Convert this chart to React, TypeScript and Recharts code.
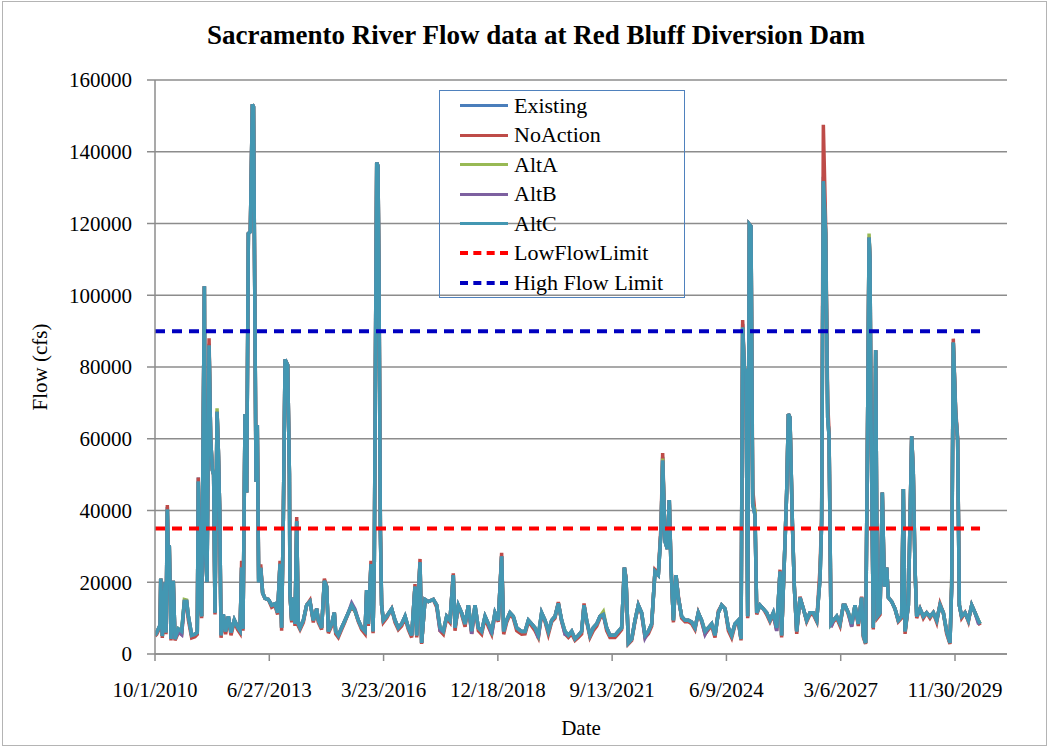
import { CartesianGrid, Line, LineChart, XAxis, YAxis } from 'recharts';

// days since 10/1/2010
const days = [
  0, 15, 44, 50, 64, 88, 96, 108, 117, 125, 140, 160, 175, 204, 233, 257, 277, 292, 321, 350,
  370, 379, 394, 408, 432, 440, 455, 473, 487, 502, 513, 525, 543, 554, 566, 578, 598, 618, 642, 665,
  694, 723, 744, 758, 770, 788, 802, 817, 834, 852, 862, 884, 895, 907, 925, 942, 963, 992, 1021, 1050,
  1073, 1094, 1108, 1123, 1138, 1161, 1176,
  1181, 1196, 1210, 1225, 1240, 1254, 1269, 1298, 1327, 1356, 1385, 1415, 1429, 1458, 1482, 1502, 1517, 1546, 1569, 1581,
  1604, 1633, 1663, 1692, 1721, 1750, 1779, 1808, 1838, 1852, 1867, 1890, 1908, 1919, 1931, 1940, 1951, 1960, 1972, 1983,
  1998, 2027, 2071, 2100, 2129, 2158, 2188, 2217, 2246, 2275, 2290, 2304, 2319, 2333,
  2363, 2392, 2435, 2465, 2494, 2523, 2552, 2581, 2610, 2625, 2654, 2683, 2713, 2742, 2771, 2800, 2829, 2858, 2888, 2917,
  2946, 2975, 3004, 3033, 3051, 3077, 3106, 3135, 3165, 3208, 3238, 3267, 3296, 3325, 3354, 3383, 3413, 3442, 3471, 3500,
  3529, 3558,
  3588, 3617, 3646, 3675, 3704, 3733, 3754, 3777, 3806, 3835, 3865, 3894, 3923, 3952, 3981, 4025, 4054, 4083, 4107, 4121,
  4142, 4171, 4200, 4229, 4258, 4288, 4317, 4346, 4375, 4404, 4428, 4442, 4463, 4483, 4500, 4515, 4536, 4559, 4579, 4608,
  4638, 4667, 4696, 4725, 4754, 4783,
  4813, 4842, 4871, 4900, 4929, 4958, 4988, 5017, 5046, 5075, 5104, 5128, 5142, 5157, 5171, 5186, 5200, 5215, 5230, 5250,
  5265, 5294, 5323, 5352, 5381, 5410, 5440, 5469, 5483, 5513, 5527, 5542, 5556, 5577, 5594, 5615, 5644, 5673, 5702, 5731,
  5760, 5790, 5819, 5833, 5848, 5868, 5886, 5898, 5915, 5936, 5965, 5994, 6023,
  6038, 6067, 6096, 6125, 6154, 6183, 6198, 6218, 6233, 6248, 6256, 6265, 6285, 6306, 6320, 6344, 6364, 6382, 6402, 6417,
  6446, 6475, 6504, 6533, 6548, 6563, 6592, 6621, 6635, 6650, 6665, 6694, 6723, 6752, 6781, 6810, 6840, 6869, 6898, 6927,
  6956, 6971, 6985, 7006, 7023, 7038, 7058, 7088, 7117, 7146, 7175, 7204, 7219,
];

// flows in thousand cfs
const existing = [
  5.3, 6.0, 8.0, 21.0, 5.0, 20.0, 6.0, 41.0, 25.0, 30.3, 4.2, 20.4, 4.2, 7.0, 6.3, 14.6, 14.6, 10.5, 5.2, 5.5,
  6.0, 49.2, 15.0, 10.5, 102.5, 30.0, 20.0, 86.5, 60.0, 51.3, 50.0, 11.5, 67.5, 57.0, 40.0, 5.2, 11.0, 6.3, 10.5, 6.0,
  9.5, 7.5, 6.5, 24.1, 7.0, 66.9, 45.0, 117.2, 117.7, 153.2, 152.5, 48.0, 63.8, 20.0, 24.0, 17.0, 15.5, 15.2, 13.6, 14.0,
  11.5, 25.1, 7.3, 38.2, 82.1, 80.5, 50.2,
  16.7, 9.4, 15.7, 8.4, 37.0, 8.4, 7.3, 9.4, 13.6, 14.6, 9.4, 12.6, 9.4, 7.3, 20.4, 18.8, 6.3, 8.4, 11.5, 6.3,
  5.2, 7.3, 9.4, 11.5, 13.6, 12.0, 9.4, 7.3, 6.3, 17.8, 8.4, 25.1, 6.3, 26.0, 93.1, 137.0, 136.0, 104.6, 34.5, 13.6,
  9.4, 10.5, 12.6, 9.4, 7.3, 8.4, 10.5, 7.3, 5.2, 18.8, 5.2, 15.7, 25.6, 3.1,
  15.2, 14.6, 15.2, 13.6, 7.3, 6.3, 10.5, 9.4, 22.0, 7.3, 13.6, 11.5, 8.4, 13.6, 6.3, 13.6, 7.3, 6.3, 10.5, 8.4,
  6.3, 11.5, 9.4, 27.2, 6.3, 9.4, 11.5, 10.5, 7.3, 6.3, 6.3, 9.4, 8.4, 7.3, 5.2, 11.5, 9.4, 6.3, 9.4, 10.5,
  14.1, 9.4,
  6.3, 5.2, 6.3, 4.2, 5.2, 6.3, 13.6, 9.4, 5.2, 7.3, 8.4, 10.5, 11.0, 7.3, 5.2, 5.2, 6.3, 7.3, 24.1, 20.9,
  3.1, 4.2, 9.4, 13.6, 11.5, 5.2, 6.3, 8.4, 23.0, 22.0, 34.5, 55.0, 31.4, 29.3, 42.9, 24.1, 9.4, 22.0, 15.7, 10.5,
  9.4, 9.4, 8.9, 7.3, 11.5, 9.4,
  6.3, 7.3, 8.4, 5.2, 11.5, 13.6, 12.6, 7.3, 5.2, 8.4, 9.4, 4.2, 92.0, 79.5, 79.0, 10.5, 119.8, 119.2, 41.8, 38.7,
  11.5, 13.6, 12.6, 11.5, 9.4, 11.5, 7.3, 23.0, 5.2, 31.4, 45.0, 66.9, 65.9, 36.6, 18.8, 6.3, 15.7, 12.6, 9.4, 11.5,
  11.5, 9.4, 21.0, 36.6, 133.0, 117.2, 65.9, 60.7, 8.4, 9.4, 10.5, 8.4, 13.6,
  13.6, 11.5, 8.4, 13.6, 8.4, 15.7, 5.2, 3.1, 55.4, 116.1, 110.0, 66.9, 7.3, 84.7, 10.5, 11.5, 45.0, 18.8, 24.1, 15.7,
  14.6, 12.6, 9.4, 10.5, 46.0, 6.3, 13.6, 60.7, 50.2, 24.1, 10.5, 12.6, 10.5, 11.5, 10.5, 11.5, 9.4, 13.6, 11.5, 6.3,
  3.1, 18.8, 86.8, 66.9, 59.6, 13.6, 10.5, 11.5, 9.4, 13.6, 11.5, 9.4, 8.4,
];

const noAction = [
  5.0, 5.5, 7.5, 21.0, 4.5, 20.0, 5.5, 41.5, 25.0, 30.3, 3.8, 20.4, 3.8, 6.0, 5.5, 14.0, 14.0, 9.5, 4.5, 4.8,
  5.5, 49.2, 15.0, 10.0, 102.5, 30.0, 20.0, 88.0, 60.0, 51.3, 50.0, 11.0, 67.5, 57.0, 40.0, 4.5, 10.5, 5.5, 10.0, 5.2,
  9.0, 6.8, 5.8, 26.0, 6.5, 66.9, 45.0, 117.2, 117.7, 153.2, 152.5, 48.0, 63.8, 21.0, 25.0, 17.0, 15.5, 15.2, 13.0, 13.5,
  11.0, 26.0, 6.5, 38.2, 82.1, 80.5, 50.2,
  16.7, 8.8, 15.7, 7.8, 38.2, 7.8, 6.8, 8.8, 13.6, 15.0, 8.8, 12.6, 8.8, 6.8, 21.0, 18.8, 5.8, 7.8, 11.5, 5.6,
  4.6, 6.8, 9.0, 11.5, 13.0, 12.0, 9.0, 6.8, 5.6, 17.8, 7.8, 26.0, 5.8, 27.0, 93.1, 137.0, 136.0, 104.6, 36.0, 13.6,
  8.8, 10.0, 12.6, 8.8, 6.8, 7.8, 10.0, 6.8, 4.6, 19.5, 4.6, 15.7, 26.5, 2.8,
  15.2, 14.6, 15.2, 13.0, 6.5, 5.5, 10.0, 8.8, 22.5, 6.5, 13.6, 11.0, 7.6, 13.6, 5.6, 13.0, 6.5, 5.5, 10.0, 7.6,
  5.5, 11.0, 9.0, 28.2, 5.5, 8.8, 11.0, 10.0, 6.5, 5.5, 5.6, 9.0, 7.8, 6.5, 4.6, 11.0, 9.0, 5.5, 9.0, 10.0,
  14.5, 9.0,
  5.6, 4.6, 5.6, 3.8, 4.6, 5.6, 14.1, 9.0, 4.6, 6.5, 7.8, 10.0, 11.0, 6.5, 4.6, 4.6, 5.6, 6.8, 24.1, 21.5,
  2.8, 3.8, 9.0, 13.6, 11.0, 4.6, 5.6, 7.8, 23.5, 22.5, 36.0, 56.0, 32.0, 29.3, 42.9, 25.0, 8.8, 22.0, 16.2, 10.0,
  9.0, 9.0, 8.4, 6.8, 11.5, 9.0,
  5.6, 6.8, 7.8, 4.6, 12.0, 13.6, 12.6, 6.5, 4.5, 8.0, 9.0, 3.8, 93.1, 79.5, 79.0, 10.0, 119.8, 119.2, 46.0, 39.0,
  11.0, 13.6, 12.6, 11.0, 9.0, 11.0, 6.5, 23.5, 4.6, 32.0, 45.0, 66.9, 65.9, 37.0, 19.0, 5.6, 16.0, 12.6, 9.0, 11.0,
  11.0, 9.0, 24.0, 38.0, 147.5, 120.0, 70.0, 62.0, 7.6, 9.0, 10.0, 7.8, 13.6,
  13.6, 11.0, 7.8, 13.6, 7.8, 16.0, 4.6, 2.8, 55.4, 116.1, 110.0, 66.9, 6.8, 84.7, 10.0, 11.0, 45.0, 19.0, 24.1, 15.7,
  14.6, 12.6, 9.0, 10.0, 46.0, 5.6, 13.6, 60.7, 51.0, 24.1, 10.0, 12.6, 10.0, 11.5, 10.0, 11.5, 8.8, 14.0, 11.5, 5.6,
  2.8, 19.5, 87.9, 68.0, 60.5, 13.6, 10.0, 11.5, 9.0, 13.6, 11.5, 9.0, 8.0,
];

const altA = [
  5.2, 6.0, 8.0, 21.0, 5.0, 20.0, 6.0, 40.3, 25.0, 30.3, 4.2, 20.4, 4.2, 7.0, 6.3, 15.2, 15.0, 10.5, 5.2, 5.5,
  6.0, 48.1, 15.0, 10.5, 102.5, 30.0, 20.0, 86.0, 60.0, 51.3, 50.0, 11.5, 68.5, 57.0, 40.0, 5.2, 11.0, 6.3, 10.5, 6.0,
  9.5, 7.5, 6.5, 24.1, 7.0, 66.9, 45.0, 117.2, 117.7, 153.2, 152.5, 48.0, 63.8, 20.0, 24.0, 17.0, 15.5, 15.2, 13.6, 14.0,
  11.5, 25.1, 7.3, 38.2, 82.1, 80.5, 50.2,
  16.7, 9.4, 15.7, 8.4, 37.0, 8.4, 7.3, 9.4, 13.6, 14.6, 9.4, 12.6, 9.4, 7.3, 20.4, 18.8, 6.3, 8.4, 11.5, 6.3,
  5.2, 7.3, 9.4, 11.5, 13.6, 12.0, 9.4, 7.3, 6.3, 17.8, 8.4, 25.1, 6.3, 26.0, 93.1, 137.0, 136.0, 104.6, 34.5, 13.6,
  9.4, 10.5, 12.6, 9.4, 7.3, 8.4, 10.5, 7.3, 5.2, 18.8, 5.2, 15.7, 25.6, 3.1,
  15.2, 14.6, 15.2, 13.6, 7.3, 6.3, 10.5, 9.4, 22.0, 7.3, 13.6, 11.5, 8.4, 13.6, 6.3, 13.6, 7.3, 6.3, 10.5, 8.4,
  6.3, 11.5, 9.4, 27.2, 6.3, 9.4, 11.5, 10.5, 7.3, 6.3, 6.3, 9.4, 8.4, 7.3, 5.2, 11.5, 9.4, 6.3, 9.4, 10.5,
  14.1, 9.4,
  6.3, 5.2, 6.3, 4.2, 5.2, 6.3, 13.6, 9.4, 5.2, 7.3, 8.4, 10.5, 11.8, 7.3, 5.2, 5.2, 6.3, 7.3, 24.1, 20.9,
  3.1, 4.2, 9.4, 13.6, 11.5, 5.2, 6.3, 8.4, 23.0, 22.0, 34.5, 54.5, 31.4, 29.3, 42.9, 24.1, 9.4, 22.0, 15.7, 10.5,
  9.4, 9.4, 8.9, 7.3, 11.5, 9.4,
  6.3, 7.3, 8.4, 5.2, 11.5, 13.6, 12.6, 7.3, 5.2, 8.4, 9.4, 4.2, 91.0, 79.5, 79.0, 10.5, 119.8, 119.2, 41.8, 40.0,
  11.5, 13.6, 12.6, 11.5, 9.4, 11.5, 7.3, 23.0, 5.2, 31.4, 45.0, 66.9, 65.9, 36.6, 18.8, 6.3, 15.7, 12.6, 9.4, 11.5,
  11.5, 9.4, 21.0, 37.5, 131.8, 117.2, 65.9, 60.7, 8.4, 9.4, 10.5, 8.4, 13.6,
  13.6, 11.5, 8.4, 13.6, 8.4, 15.7, 5.2, 3.1, 55.4, 117.2, 110.0, 66.9, 7.3, 84.7, 10.5, 11.5, 45.0, 18.8, 24.1, 15.7,
  14.6, 12.6, 9.4, 10.5, 46.0, 6.3, 13.6, 60.7, 50.2, 24.1, 10.5, 12.6, 10.5, 11.5, 10.5, 11.5, 9.4, 13.6, 11.5, 6.3,
  3.1, 19.9, 86.8, 66.9, 59.6, 13.6, 10.5, 11.5, 9.4, 13.6, 11.5, 9.4, 8.4,
];

const altB = [
  5.2, 6.0, 8.0, 21.0, 5.0, 20.0, 6.0, 40.3, 25.0, 30.3, 4.2, 20.4, 4.2, 6.2, 5.4, 14.6, 14.6, 10.5, 5.2, 5.5,
  6.0, 48.1, 15.0, 10.5, 102.5, 30.0, 20.0, 86.0, 60.0, 51.3, 50.0, 11.5, 67.5, 57.0, 40.0, 5.2, 11.0, 6.3, 10.5, 6.0,
  9.5, 7.5, 6.5, 24.1, 7.0, 66.9, 45.0, 117.2, 117.7, 153.2, 152.5, 48.0, 63.8, 20.0, 24.0, 17.0, 15.5, 15.2, 13.6, 14.0,
  11.5, 25.1, 7.3, 38.2, 82.1, 80.5, 50.2,
  16.7, 9.4, 15.7, 8.4, 37.0, 8.4, 7.3, 9.4, 13.6, 14.6, 9.4, 12.6, 9.4, 7.3, 20.4, 18.8, 6.3, 8.4, 11.5, 6.3,
  5.2, 7.3, 9.4, 11.5, 14.2, 12.5, 9.4, 7.3, 6.3, 17.8, 8.4, 25.1, 6.3, 26.0, 93.1, 137.0, 136.0, 104.6, 34.5, 13.6,
  9.4, 10.5, 12.6, 9.4, 7.3, 8.4, 10.5, 7.3, 5.2, 18.8, 5.2, 15.7, 25.6, 3.1,
  15.2, 14.6, 15.2, 13.6, 6.6, 6.3, 10.5, 9.4, 22.0, 7.3, 13.6, 11.5, 8.4, 13.6, 5.6, 13.6, 7.3, 6.3, 10.5, 8.4,
  5.5, 11.5, 9.4, 27.2, 6.3, 9.4, 11.5, 10.5, 7.3, 6.3, 6.3, 9.4, 8.4, 7.3, 4.5, 11.5, 9.4, 6.3, 9.4, 10.5,
  14.1, 9.4,
  5.5, 5.2, 6.3, 4.2, 5.2, 6.3, 13.6, 9.4, 5.2, 7.3, 8.4, 10.5, 11.0, 7.3, 5.2, 5.2, 6.3, 7.3, 24.1, 20.9,
  3.1, 4.2, 9.4, 13.6, 11.5, 4.5, 6.3, 8.4, 23.0, 22.0, 34.5, 53.9, 31.4, 29.3, 42.9, 24.1, 9.4, 22.0, 15.7, 10.5,
  9.4, 9.4, 8.9, 7.3, 11.5, 9.4,
  5.5, 7.3, 8.4, 5.2, 11.5, 13.6, 12.6, 7.3, 5.2, 8.4, 9.4, 4.2, 91.0, 79.5, 79.0, 10.5, 119.8, 119.2, 41.8, 38.7,
  11.5, 13.6, 12.6, 11.5, 9.4, 11.5, 6.4, 23.0, 5.2, 31.4, 45.0, 66.9, 65.9, 36.6, 18.8, 6.3, 15.7, 12.6, 9.4, 11.5,
  11.5, 9.4, 21.0, 36.6, 131.8, 117.2, 65.9, 60.7, 7.5, 9.4, 10.5, 8.4, 13.6,
  13.6, 11.5, 7.6, 13.6, 8.4, 15.7, 5.2, 3.1, 55.4, 116.1, 110.0, 66.9, 7.3, 84.7, 10.5, 11.5, 45.0, 18.8, 24.1, 15.7,
  14.6, 12.6, 9.4, 10.5, 46.0, 6.3, 13.6, 60.7, 50.2, 24.1, 10.5, 12.6, 10.5, 11.5, 10.5, 11.5, 9.4, 13.6, 11.5, 6.3,
  3.1, 18.8, 86.8, 66.9, 59.6, 13.6, 10.5, 11.5, 9.4, 13.6, 11.5, 8.6, 8.4,
];

const altC = [
  5.2, 6.0, 8.0, 21.0, 5.0, 20.0, 6.0, 40.3, 25.0, 30.3, 4.2, 20.4, 4.2, 7.0, 6.3, 14.6, 14.6, 10.5, 5.2, 5.5,
  6.0, 48.1, 15.0, 10.5, 102.5, 30.0, 20.0, 86.0, 60.0, 51.3, 50.0, 11.5, 67.5, 57.0, 40.0, 5.2, 11.0, 6.3, 10.5, 6.0,
  9.5, 7.5, 6.5, 24.1, 7.0, 66.9, 45.0, 117.2, 117.7, 153.2, 152.5, 48.0, 63.8, 20.0, 24.0, 17.0, 15.5, 15.2, 13.6, 14.0,
  11.5, 25.1, 7.3, 38.2, 82.1, 80.5, 50.2,
  16.7, 9.4, 15.7, 8.4, 37.0, 8.4, 7.3, 9.4, 13.6, 14.6, 9.4, 12.6, 9.4, 7.3, 20.4, 18.8, 6.3, 8.4, 11.5, 6.3,
  5.2, 7.3, 9.4, 11.5, 13.6, 12.0, 9.4, 7.3, 6.3, 17.8, 8.4, 25.1, 6.3, 26.0, 93.1, 137.0, 136.0, 104.6, 34.5, 13.6,
  9.4, 10.5, 12.6, 9.4, 7.3, 8.4, 10.5, 7.3, 5.2, 18.8, 5.2, 15.7, 25.6, 3.1,
  15.2, 14.6, 15.2, 13.6, 7.3, 6.3, 10.5, 9.4, 22.0, 7.3, 13.6, 11.5, 8.4, 13.6, 6.3, 13.6, 7.3, 6.3, 10.5, 8.4,
  6.3, 11.5, 9.4, 27.2, 6.3, 9.4, 11.5, 10.5, 7.3, 6.3, 6.3, 9.4, 8.4, 7.3, 5.2, 11.5, 9.4, 6.3, 9.4, 10.5,
  14.1, 9.4,
  6.3, 5.2, 6.3, 4.2, 5.2, 6.3, 13.6, 9.4, 5.2, 7.3, 8.4, 10.5, 11.0, 7.3, 5.2, 5.2, 6.3, 7.3, 24.1, 20.9,
  3.1, 4.2, 9.4, 13.6, 11.5, 5.2, 6.3, 8.4, 23.0, 22.0, 34.5, 53.9, 31.4, 29.3, 42.9, 24.1, 9.4, 22.0, 15.7, 10.5,
  9.4, 9.4, 8.9, 7.3, 11.5, 9.4,
  6.3, 7.3, 8.4, 5.2, 11.5, 13.6, 12.6, 7.3, 5.2, 8.4, 9.4, 4.2, 91.0, 79.5, 79.0, 10.5, 119.8, 119.2, 41.8, 38.7,
  11.5, 13.6, 12.6, 11.5, 9.4, 11.5, 7.3, 23.0, 5.2, 31.4, 45.0, 66.9, 65.9, 36.6, 18.8, 6.3, 15.7, 12.6, 9.4, 11.5,
  11.5, 9.4, 21.0, 36.6, 131.8, 117.2, 65.9, 60.7, 8.4, 9.4, 10.5, 8.4, 13.6,
  13.6, 11.5, 8.4, 13.6, 8.4, 15.7, 5.2, 3.1, 55.4, 116.1, 110.0, 66.9, 7.3, 84.7, 10.5, 11.5, 45.0, 18.8, 24.1, 15.7,
  14.6, 12.6, 9.4, 10.5, 46.0, 6.3, 13.6, 60.7, 50.2, 24.1, 10.5, 12.6, 10.5, 11.5, 10.5, 11.5, 9.4, 13.6, 11.5, 6.3,
  3.1, 18.8, 86.8, 66.9, 59.6, 13.6, 10.5, 11.5, 9.4, 13.6, 11.5, 9.4, 8.4,
];

const LOW_FLOW_LIMIT = 35000;
const HIGH_FLOW_LIMIT = 90000;

const xTicks = [0, 1000, 2000, 3000, 4000, 5000, 6000, 7000];
const yTicks = [0, 20000, 40000, 60000, 80000, 100000, 120000, 140000, 160000];

const series = [
  { name: 'Existing', values: existing, color: '#4a7ebb' },
  { name: 'NoAction', values: noAction, color: '#be4b48' },
  { name: 'AltA', values: altA, color: '#98b954' },
  { name: 'AltB', values: altB, color: '#7d60a0' },
  { name: 'AltC', values: altC, color: '#4397b2' },
];

const chartData = days.map((day, i) => {
  const row: Record<string, number> = { day };
  series.forEach((s) => {
    row[s.name] = s.values[i] * 1000;
  });
  return row;
});

const lastDay = days[days.length - 1];
const lowLimitData = [
  { day: 0, flow: LOW_FLOW_LIMIT },
  { day: lastDay, flow: LOW_FLOW_LIMIT },
];
const highLimitData = [
  { day: 0, flow: HIGH_FLOW_LIMIT },
  { day: lastDay, flow: HIGH_FLOW_LIMIT },
];

const legendItems = [
  ...series.map((s) => ({ name: s.name, color: s.color, dashed: false })),
  { name: 'LowFlowLimit', color: '#ff0000', dashed: true },
  { name: 'High Flow Limit', color: '#0000c0', dashed: true },
];

const START = Date.UTC(2010, 9, 1);
const DAY_MS = 86400000;
const formatDay = (d: number) => {
  const dt = new Date(START + d * DAY_MS);
  return `${dt.getUTCMonth() + 1}/${dt.getUTCDate()}/${dt.getUTCFullYear()}`;
};

const font = "'Liberation Serif', 'Times New Roman', serif";
const gray = '#8c8c8c';

export default function App() {
  return (
    <div style={{ position: 'relative', width: 1050, height: 749, background: '#fff', fontFamily: font }}>
      <style>{'body{margin:0}'}</style>
      <div
        style={{
          position: 'absolute',
          left: 2,
          top: 1,
          width: 1045,
          height: 745,
          border: '1px solid #b4b4b4',
          boxSizing: 'border-box',
        }}
      />
      <div
        style={{
          position: 'absolute',
          left: 536,
          top: 22,
          transform: 'translateX(-50%)',
          whiteSpace: 'nowrap',
          fontSize: 27,
          lineHeight: '27px',
          fontWeight: 'bold',
        }}
      >
        Sacramento River Flow data at Red Bluff Diversion Dam
      </div>
      <LineChart
        width={1050}
        height={749}
        data={chartData}
        margin={{ top: 80, right: 43, bottom: 0, left: 0 }}
      >
        <CartesianGrid vertical={false} stroke={gray} strokeWidth={1.5} />
        <XAxis
          type="number"
          dataKey="day"
          domain={[0, 7455]}
          ticks={xTicks}
          tickFormatter={formatDay}
          height={95}
          stroke={gray}
          strokeWidth={1.5}
          tickSize={7}
          tickMargin={21}
          tick={{ fill: '#000', fontSize: 21, fontFamily: font }}
          allowDataOverflow
          label={{
            value: 'Date',
            position: 'insideBottom',
            offset: 14,
            style: { fill: '#000', fontSize: 21, fontFamily: font },
          }}
        />
        <YAxis
          domain={[0, 160000]}
          ticks={yTicks}
          width={155}
          stroke={gray}
          strokeWidth={1.5}
          tickSize={8}
          tickMargin={15}
          tick={{ fill: '#000', fontSize: 21, fontFamily: font }}
          label={{
            value: 'Flow (cfs)',
            angle: -90,
            position: 'insideLeft',
            offset: 40,
            style: { textAnchor: 'middle', fill: '#000', fontSize: 21, fontFamily: font },
          }}
        />
        {series.map((s) => (
          <Line
            key={s.name}
            type="linear"
            dataKey={s.name}
            stroke={s.color}
            strokeWidth={3.5}
            dot={false}
            isAnimationActive={false}
          />
        ))}
        <Line
          data={lowLimitData}
          dataKey="flow"
          stroke="#ff0000"
          strokeWidth={4}
          strokeDasharray="10 7"
          dot={false}
          isAnimationActive={false}
        />
        <Line
          data={highLimitData}
          dataKey="flow"
          stroke="#0000c0"
          strokeWidth={4}
          strokeDasharray="10 7"
          dot={false}
          isAnimationActive={false}
        />
      </LineChart>
      <div
        style={{
          position: 'absolute',
          left: 439,
          top: 90,
          width: 246,
          height: 208,
          border: '1px solid #4f81bd',
          boxSizing: 'border-box',
        }}
      >
        {legendItems.map((item) => (
          <div key={item.name} style={{ display: 'flex', alignItems: 'center', height: 29.5 }}>
            <div
              style={{
                marginLeft: 20,
                width: 48,
                height: 0,
                borderTop: item.dashed ? `4px dashed ${item.color}` : `3px solid ${item.color}`,
              }}
            />
            <span style={{ marginLeft: 6, fontSize: 22, lineHeight: '22px' }}>{item.name}</span>
          </div>
        ))}
      </div>
    </div>
  );
}
